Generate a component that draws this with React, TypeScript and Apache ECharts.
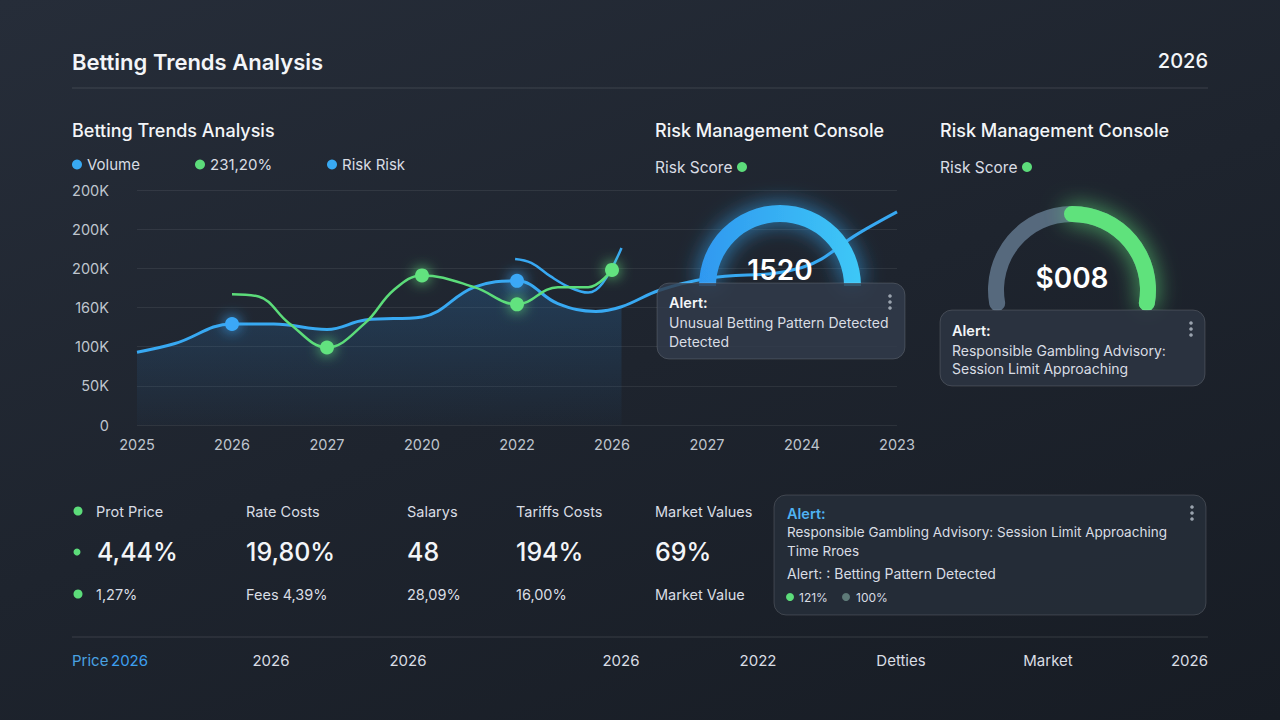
import React, { useEffect, useRef } from "react";
import * as echarts from "echarts";

// ---------- DATA ----------
const xLabels = ["2025", "2026", "2027", "2020", "2022", "2026", "2027", "2024", "2023"];
const yTickLabels = ["0", "50K", "100K", "160K", "200K", "200K", "200K"];

const seriesNames = ["Volume", "231,20%", "Risk Risk"];

// Volume (blue), x in category index units, y in K
const volumeX = [0, 0.4, 1, 1.44, 2, 2.4, 3, 3.55, 4, 4.43, 4.83, 5.1, 5.5, 6, 7, 7.6, 8];
const volumeY = [93, 104, 129, 129, 122, 134, 138, 176, 184, 155, 145, 151, 172, 187, 201, 245, 272];
const volumeMarked = [1, 4];
const volumeAreaEnd = 5.1;

// 231,20% (green)
const trendX = [1, 1.28, 1.6, 2, 2.4, 2.7, 3, 3.55, 4, 4.43, 4.75, 5];
const trendY = [167, 164, 130, 99, 130, 172, 191, 176, 154, 176, 176, 198];
const trendMarked = [2, 3, 4, 5];

// Risk Risk (blue, short)
const riskX = [3.98, 4.15, 4.35, 4.55, 4.75, 4.9, 5.1];
const riskY = [212, 207, 190, 176, 169, 181, 226];

// Gauges
const gaugeTitles = ["Risk Management Console", "Risk Management Console"];
const gaugeNames = ["Risk Score", "Risk Score"];
const gaugeValues = [100, 50];
const gaugeLabels = ["1520", "$008"];

// KPI row
const kpiLabels = ["Prot Price", "Rate Costs", "Salarys", "Tariffs Costs", "Market Values"];
const kpiValues = ["4,44%", "19,80%", "48", "194%", "69%"];
const kpiSubs = ["1,27%", "Fees 4,39%", "28,09%", "16,00%", "Market Value"];

// Alerts
const alert1Lines = ["Unusual Betting Pattern Detected", "Detected"];
const alert2Lines = ["Responsible Gambling Advisory:", "Session Limit Approaching"];
const alert3Lines = ["Responsible Gambling Advisory: Session Limit Approaching", "Time Rroes", "Alert: : Betting Pattern Detected"];
const alert3Legend = ["121%", "100%"];

// Footer
const footerFirst = ["Price", "2026"];
const footerLabels = ["2026", "2026", "2026", "2022", "Detties", "Market", "2026"];

// ---------- STYLE ----------
const FONT = "Inter, Roboto, 'Noto Sans', sans-serif";
const BLUE = "#38a9f2";
const GREEN = "#5cdc7a";
const WHITE = "#f3f5f8";
const LIGHT = "#d9dde4";
const AXIS = "#bfc5ce";

const txt = (text: string, x: number, y: number, size: number, color: string, weight = 400, align = "left") => ({
  type: "text",
  x,
  y,
  z: 100,
  style: {
    text,
    fill: color,
    font: `${weight} ${size}px ${FONT}`,
    textAlign: align,
    verticalAlign: "middle",
  },
});

const dot = (x: number, y: number, r: number, color: string) => ({
  type: "circle",
  z: 100,
  shape: { cx: x, cy: y, r },
  style: { fill: color },
});

const menuDots = (x: number, y: number) => [-6, 0, 6].map((d) => dot(x, y + d, 1.8, "#9aa3ae"));

const box = (x: number, y: number, w: number, h: number, fill: string) => ({
  type: "rect",
  z: 90,
  shape: { x, y, width: w, height: h, r: 12 },
  style: { fill, stroke: "rgba(255,255,255,0.14)", lineWidth: 1 },
});

export default function App() {
  const ref = useRef<HTMLDivElement>(null);

  useEffect(() => {
    if (!ref.current) return;
    const chart = echarts.init(ref.current, undefined, { renderer: "svg" });

    const pts = (xs: number[], ys: number[], marked: number[], color: string) =>
      xs.map((x, i) =>
        marked.includes(x)
          ? {
              value: [x, ys[i]],
              symbol: "circle",
              symbolSize: 14,
              itemStyle: { color, shadowBlur: 14, shadowColor: color },
            }
          : { value: [x, ys[i]], symbol: "none" }
      );

    const areaData = volumeX
      .map((x, i) => [x, volumeY[i]])
      .filter((p) => p[0] <= volumeAreaEnd);

    const colX = [72, 246, 407, 516, 655];
    const graphics: any[] = [
      txt("Betting Trends Analysis", 72, 62, 22, WHITE, 600),
      txt("2026", 1208, 61, 20, WHITE, 500, "right"),
      { type: "line", z: 100, shape: { x1: 72, y1: 88, x2: 1208, y2: 88 }, style: { stroke: "rgba(255,255,255,0.13)", lineWidth: 1 } },
      txt("Betting Trends Analysis", 72, 130, 18, WHITE, 500),
      txt(gaugeTitles[0], 655, 130, 18, WHITE, 500),
      txt(gaugeNames[0], 655, 167, 15.5, LIGHT, 400),
      dot(742, 167, 5, GREEN),
      txt(gaugeTitles[1], 940, 130, 18, WHITE, 500),
      txt(gaugeNames[1], 940, 167, 15.5, LIGHT, 400),
      dot(1027, 167, 5, GREEN),
      // alert 1
      box(657, 283, 248, 76, "rgba(50,60,76,0.82)"),
      txt("Alert:", 669, 302, 14.5, WHITE, 600),
      txt(alert1Lines[0], 669, 322, 14, LIGHT, 400),
      txt(alert1Lines[1], 669, 341, 14, LIGHT, 400),
      ...menuDots(890, 302),
      // alert 2
      box(940, 310, 265, 76, "rgba(44,52,66,0.88)"),
      txt("Alert:", 952, 330, 14.5, WHITE, 600),
      txt(alert2Lines[0], 952, 350, 14, LIGHT, 400),
      txt(alert2Lines[1], 952, 368, 14, LIGHT, 400),
      ...menuDots(1191, 329),
      // alert 3
      box(774, 495, 432, 120, "rgba(38,45,57,0.9)"),
      txt("Alert:", 787, 513, 14.5, "#4fb2f2", 600),
      txt(alert3Lines[0], 787, 532, 13.5, LIGHT, 400),
      txt(alert3Lines[1], 787, 551, 13.5, LIGHT, 400),
      txt(alert3Lines[2], 787, 573, 14, LIGHT, 400),
      ...menuDots(1192, 513),
      dot(790, 597, 4, GREEN),
      txt(alert3Legend[0], 799, 597, 12, LIGHT, 400),
      dot(846, 597, 4, "#5e7a78"),
      txt(alert3Legend[1], 856, 597, 12, LIGHT, 400),
      // KPI
      dot(78, 511, 4.5, GREEN),
      dot(77, 552, 3.5, GREEN),
      dot(78, 594, 4.5, GREEN),
      ...kpiLabels.map((s, i) => txt(s, i === 0 ? 96 : colX[i], 511, 14.5, LIGHT, 400)),
      ...kpiValues.map((s, i) => txt(s, i === 0 ? 97 : colX[i], 552, 25, WHITE, 500)),
      ...kpiSubs.map((s, i) => txt(s, i === 0 ? 96 : colX[i], 594, 14.5, LIGHT, 400)),
      // footer
      { type: "line", z: 100, shape: { x1: 72, y1: 637, x2: 1208, y2: 637 }, style: { stroke: "rgba(255,255,255,0.13)", lineWidth: 1 } },
      txt(footerFirst[0], 72, 660, 15, "#4aa2e2", 400),
      txt(footerFirst[1], 111, 660, 15, "#3c9ff0", 400),
      ...footerLabels.map((s, i) => txt(s, [271, 408, 621, 758, 901, 1048, 1208][i], 660, 15, LIGHT, 400, i === 6 ? "right" : "center")),
    ];

    const legendLefts = [72, 195, 327];
    const legendColors = [BLUE, GREEN, BLUE];

    const option: any = {
      animation: false,
      backgroundColor: "transparent",
      textStyle: { fontFamily: FONT },
      legend: seriesNames.map((n, i) => ({
        data: [{ name: n, itemStyle: { color: legendColors[i] } }],
        left: legendLefts[i],
        top: 157,
        padding: 0,
        icon: "circle",
        itemWidth: 10,
        itemHeight: 10,
        textStyle: { color: LIGHT, fontSize: 15, fontFamily: FONT },
        selectedMode: false,
      })),
      grid: { left: 137, right: 1280 - 897, top: 190, bottom: 720 - 425, containLabel: false },
      xAxis: {
        type: "value",
        min: 0,
        max: xLabels.length - 1,
        interval: 1,
        axisLine: { show: false },
        axisTick: { show: false },
        splitLine: { show: false },
        axisLabel: {
          color: AXIS,
          fontSize: 14.5,
          fontFamily: FONT,
          margin: 12,
          formatter: (v: number) => xLabels[Math.round(v)] ?? "",
        },
      },
      yAxis: {
        type: "value",
        min: 0,
        max: 300,
        interval: 50,
        axisLine: { show: false },
        axisTick: { show: false },
        splitLine: { lineStyle: { color: "rgba(255,255,255,0.075)", width: 1 } },
        axisLabel: {
          color: AXIS,
          fontSize: 14.5,
          fontFamily: FONT,
          margin: 28,
          formatter: (v: number) => yTickLabels[Math.round(v / 50)] ?? "",
        },
      },
      series: [
        {
          name: "VolumeArea",
          type: "line",
          smooth: 0.4,
          symbol: "none",
          z: 1,
          lineStyle: { width: 0 },
          areaStyle: {
            color: new echarts.graphic.LinearGradient(0, 0, 0, 1, [
              { offset: 0, color: "rgba(45,125,195,0.38)" },
              { offset: 1, color: "rgba(45,125,195,0.04)" },
            ]),
          },
          data: areaData,
        },
        {
          name: seriesNames[0],
          type: "line",
          smooth: 0.4,
          z: 3,
          showSymbol: true,
          lineStyle: { color: BLUE, width: 3 },
          itemStyle: { color: BLUE },
          data: pts(volumeX, volumeY, volumeMarked, "#3aa8f7"),
        },
        {
          name: seriesNames[1],
          type: "line",
          smooth: 0.4,
          z: 4,
          showSymbol: true,
          lineStyle: { color: GREEN, width: 2.5 },
          itemStyle: { color: GREEN },
          data: pts(trendX, trendY, trendMarked, "#62e27f"),
        },
        {
          name: seriesNames[2],
          type: "line",
          smooth: 0.4,
          z: 3,
          symbol: "none",
          lineStyle: { color: BLUE, width: 2.5 },
          itemStyle: { color: BLUE },
          data: riskX.map((x, i) => [x, riskY[i]]),
        },
        {
          type: "gauge",
          z: 5,
          center: [780, 286],
          radius: 81,
          startAngle: 180,
          endAngle: 0,
          min: 0,
          max: 100,
          axisLine: { lineStyle: { width: 17, color: [[1, "rgba(0,0,0,0)"]] } },
          progress: {
            show: true,
            width: 17,
            itemStyle: {
              color: new echarts.graphic.LinearGradient(0, 0, 1, 0, [
                { offset: 0, color: "#2f98f0" },
                { offset: 1, color: "#3ec8f7" },
              ]),
              shadowBlur: 22,
              shadowColor: "rgba(56,170,245,0.75)",
            },
          },
          pointer: { show: false },
          anchor: { show: false },
          axisTick: { show: false },
          splitLine: { show: false },
          axisLabel: { show: false },
          title: { show: false },
          detail: {
            offsetCenter: [0, -16],
            formatter: () => gaugeLabels[0],
            color: "#ffffff",
            fontSize: 28,
            fontWeight: 600,
            fontFamily: FONT,
          },
          data: [{ value: gaugeValues[0], name: gaugeNames[0] }],
        },
        {
          type: "gauge",
          z: 5,
          center: [1072, 290],
          radius: 84,
          startAngle: -10,
          endAngle: 190,
          clockwise: false,
          min: 0,
          max: 100,
          axisLine: { roundCap: true, lineStyle: { width: 16, color: [[1, "#56697d"]] } },
          progress: {
            show: true,
            roundCap: true,
            width: 16,
            itemStyle: { color: "#5fe27c", shadowBlur: 22, shadowColor: "rgba(95,226,124,0.75)" },
          },
          pointer: { show: false },
          anchor: { show: false },
          axisTick: { show: false },
          splitLine: { show: false },
          axisLabel: { show: false },
          title: { show: false },
          detail: {
            offsetCenter: [0, -12],
            formatter: () => gaugeLabels[1],
            color: "#ffffff",
            fontSize: 28,
            fontWeight: 600,
            fontFamily: FONT,
          },
          data: [{ value: gaugeValues[1], name: gaugeNames[1] }],
        },
      ],
      graphic: graphics,
    };

    chart.setOption(option);
    return () => chart.dispose();
  }, []);

  return (
    <div
      ref={ref}
      style={{
        position: "fixed",
        left: 0,
        top: 0,
        width: 1280,
        height: 720,
        background: "linear-gradient(160deg, #262d39 0%, #1e242e 50%, #171c24 100%)",
      }}
    />
  );
}
